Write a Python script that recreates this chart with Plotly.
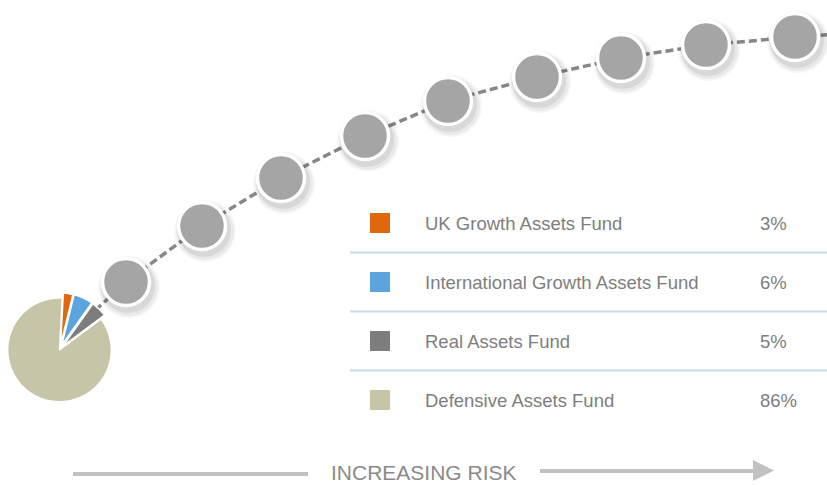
import plotly.graph_objects as go

# ---------------- data ----------------
fund_names = ["UK Growth Assets Fund", "International Growth Assets Fund",
              "Real Assets Fund", "Defensive Assets Fund"]
fund_shares = [3, 6, 5, 86]
fund_colors = ["#e2680e", "#5ba4de", "#7d7d7d", "#c7c5a7"]

# risk path (diagram coordinates: x to the right, y downward)
risk_level = [1, 2, 3, 4, 5, 6, 7, 8, 9]
risk_x = [126, 202, 281, 365, 448, 537, 621, 706, 795]
risk_y = [282, 226, 178, 136, 101, 77, 58, 45, 37]
pie_center = (60, 343)
path_end = (840, 34)

axis_label = "INCREASING RISK"

W, H = 827, 485

fig = go.Figure()

# dashed path (starts at pie centre, runs behind circles, exits right edge)
px = [pie_center[0]] + risk_x + [path_end[0]]
py = [pie_center[1]] + risk_y + [path_end[1]]
fig.add_trace(go.Scatter(x=px, y=py, mode="lines",
                         line=dict(color="#878787", width=3.5, dash="8px,4px"),
                         hoverinfo="skip", showlegend=False))

# soft shadows
for sz, op, dx, dy in [(62, 0.035, 3, 5), (58, 0.05, 3, 5), (54, 0.07, 2, 4)]:
    fig.add_trace(go.Scatter(x=[v + dx for v in risk_x], y=[v + dy for v in risk_y],
                             mode="markers",
                             marker=dict(size=sz, color="rgba(0,0,0,%s)" % op, line=dict(width=0)),
                             hoverinfo="skip", showlegend=False))

# circles
fig.add_trace(go.Scatter(x=risk_x, y=risk_y, mode="markers",
                         marker=dict(size=47, color="#a5a5a5",
                                     line=dict(color="white", width=3.5)),
                         text=[str(r) for r in risk_level], hoverinfo="text",
                         showlegend=False))

# table swatches
row_y = [223 + i * 59 for i in range(len(fund_names))]
fig.add_trace(go.Scatter(x=[380] * len(fund_names), y=row_y, mode="markers",
                         marker=dict(symbol="square", size=20, color=fund_colors, line=dict(width=0)),
                         hoverinfo="skip", showlegend=False))

annotations = []
for name, share, y in zip(fund_names, fund_shares, row_y):
    annotations.append(dict(x=423, y=y, xref="x", yref="y", text=name, showarrow=False,
                            xanchor="left", yanchor="middle",
                            font=dict(family="Liberation Sans, Arial", size=18.5, color="#7e7e7e")))
    annotations.append(dict(x=758, y=y, xref="x", yref="y", text="%d%%" % share, showarrow=False,
                            xanchor="left", yanchor="middle",
                            font=dict(family="Liberation Sans, Arial", size=18.5, color="#7e7e7e")))

annotations.append(dict(x=424, y=472, xref="x", yref="y", text=axis_label, showarrow=False,
                        xanchor="center", yanchor="middle",
                        font=dict(family="Liberation Sans, Arial", size=21, color="#8a8a8a")))

shapes = []
for i in range(len(fund_names) - 1):
    ys = (row_y[i] + row_y[i + 1]) / 2
    shapes.append(dict(type="line", x0=350, x1=827, y0=ys, y1=ys, xref="x", yref="y",
                       line=dict(color="#c8dbe9", width=2)))
# risk arrow
shapes.append(dict(type="line", x0=73, x1=308, y0=474, y1=474, xref="x", yref="y",
                   line=dict(color="#c2c2c2", width=4)))
shapes.append(dict(type="line", x0=540, x1=756, y0=471, y1=471, xref="x", yref="y",
                   line=dict(color="#c2c2c2", width=4)))
shapes.append(dict(type="path", path="M 753 460 L 774 470.5 L 753 481 Z", xref="x", yref="y",
                   fillcolor="#c2c2c2", line=dict(width=0)))

# pie
r = 56
cy = pie_center[1] + 6
fig.add_trace(go.Pie(labels=fund_names, values=fund_shares, sort=False,
                     direction="clockwise", rotation=3,
                     marker=dict(colors=fund_colors, line=dict(color="white", width=1.5)),
                     pull=[0.08, 0.08, 0.08, 0.02], textinfo="none", showlegend=False,
                     domain=dict(x=[(pie_center[0] - r) / W, (pie_center[0] + r) / W],
                                 y=[1 - (cy + r) / H, 1 - (cy - r) / H])))

fig.update_layout(width=W, height=H, margin=dict(l=0, r=0, t=0, b=0),
                  paper_bgcolor="white", plot_bgcolor="white",
                  xaxis=dict(range=[0, W], visible=False, fixedrange=True),
                  yaxis=dict(range=[H, 0], visible=False, fixedrange=True),
                  annotations=annotations, shapes=shapes)

fig.write_html("out.html", config={"displayModeBar": False},
               post_script="document.body.style.margin='0';document.body.style.overflow='hidden';")
